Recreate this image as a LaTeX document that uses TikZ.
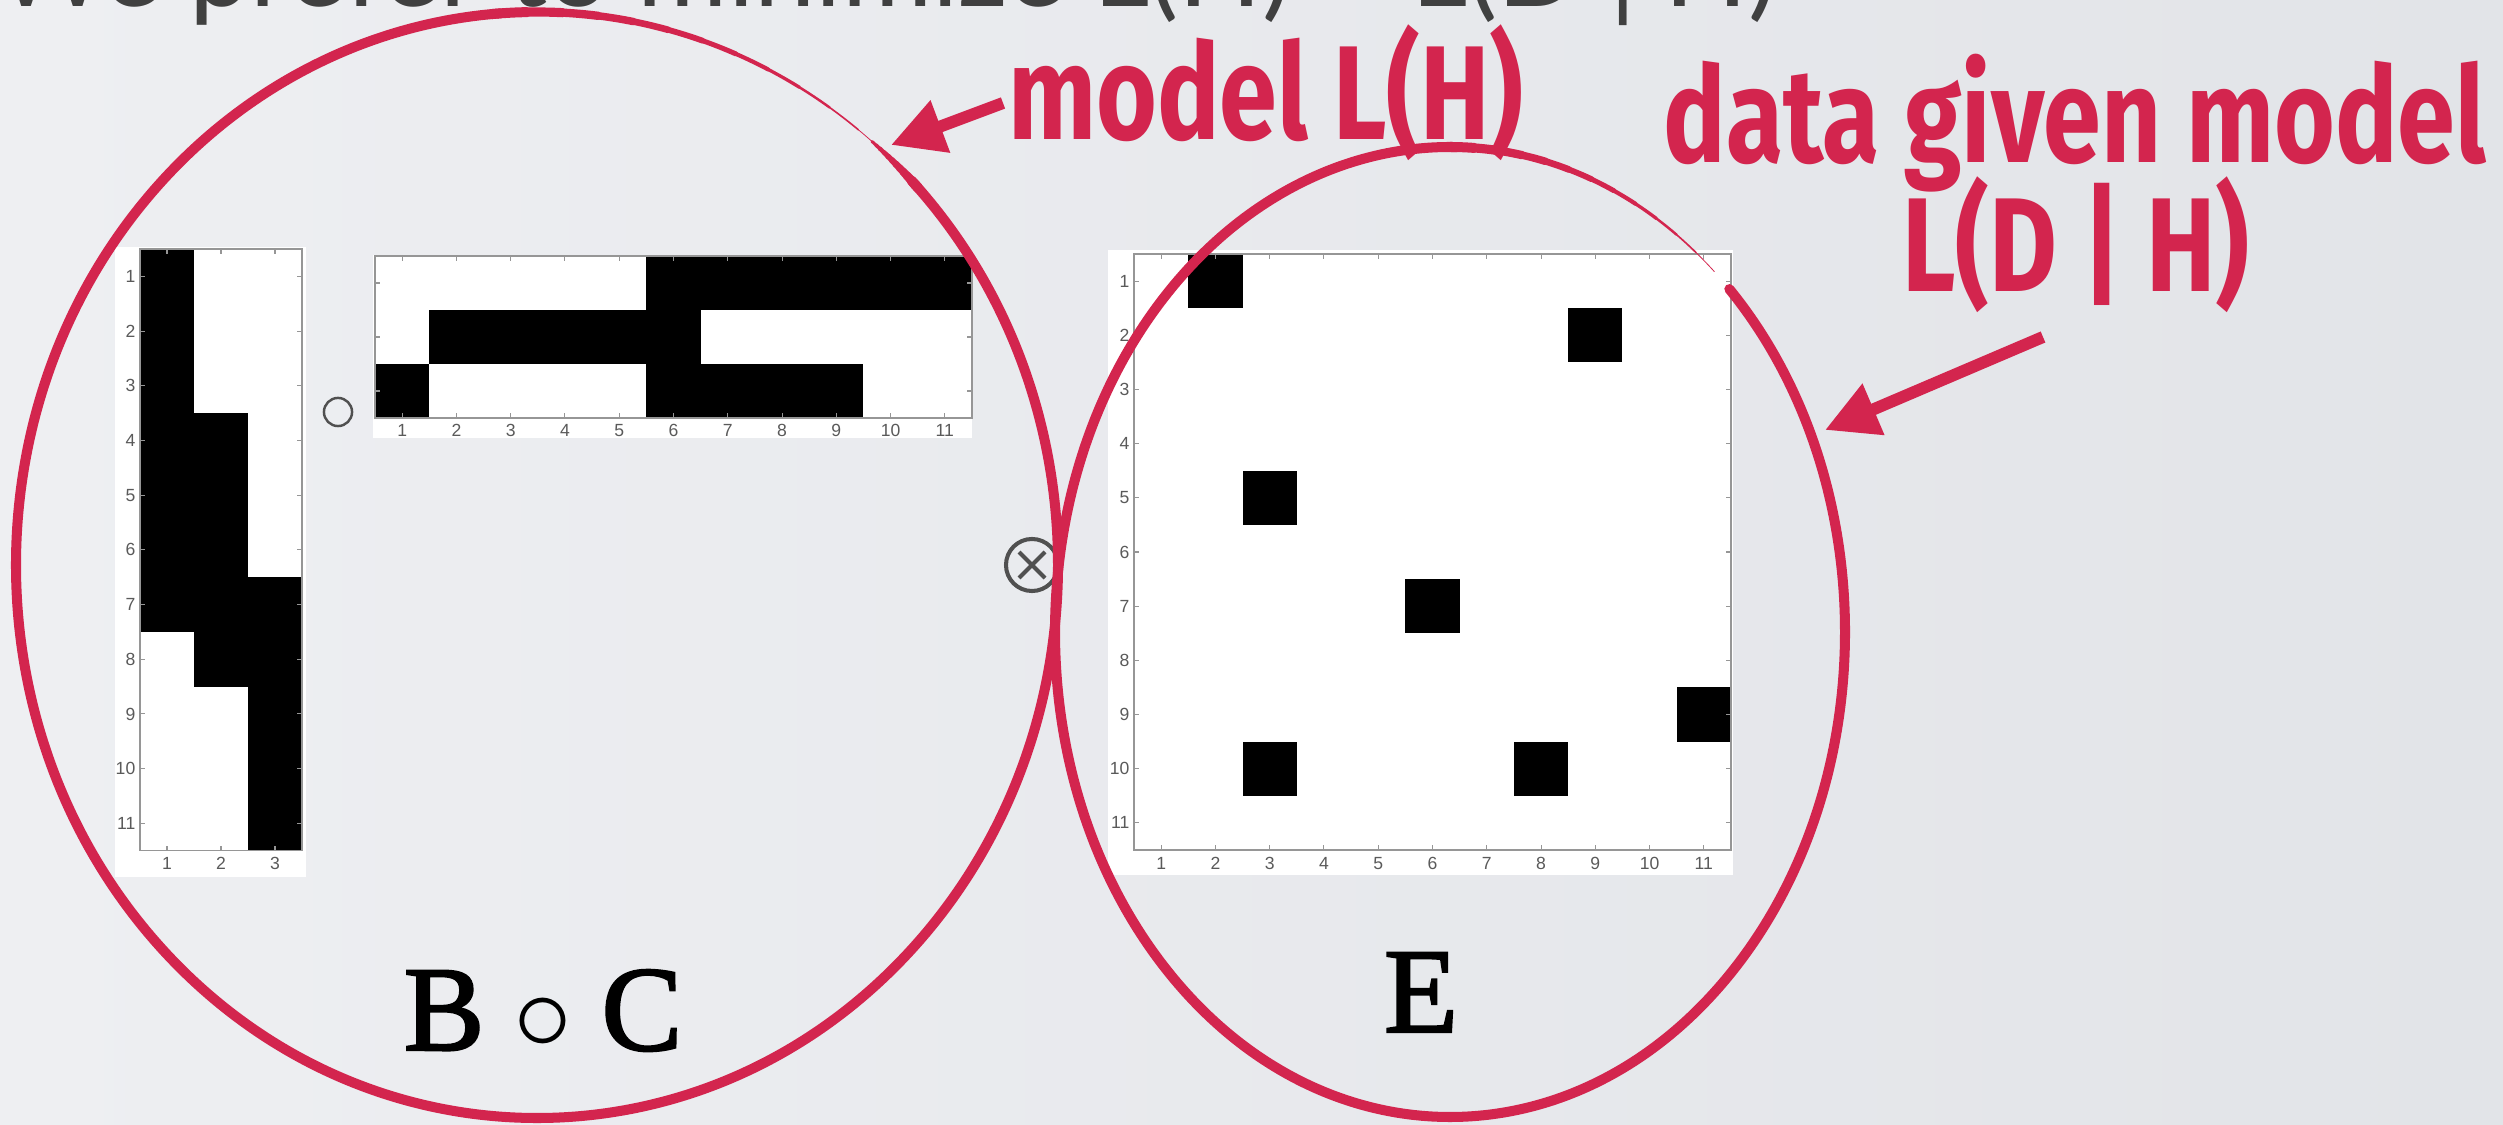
\documentclass[tikz,border=0pt]{standalone}
\usepackage{graphicx}
\usepackage{fontspec}
\setmainfont{Liberation Serif}
\newfontfamily\handfont[FakeStretch=0.78]{Fira Sans}
\newfontfamily\topfont{Lato}
\newfontfamily\lblfont{Liberation Sans}
\newfontfamily\capfont[FakeBold=2]{Liberation Serif}
\usetikzlibrary{arrows.meta}
\definecolor{myred}{RGB}{211,37,78}
\definecolor{bgl}{RGB}{238,239,242}
\definecolor{bgr}{RGB}{226,228,232}
\definecolor{txtgray}{RGB}{64,64,64}
\definecolor{axgray}{RGB}{150,150,150}
\definecolor{lblgray}{RGB}{90,90,90}
\definecolor{otgray}{RGB}{80,80,80}
\newcommand\TaperArc[8]{%
  \foreach \k in {0,...,11}{%
    \pgfmathsetmacro\taA{#5+(#6-#5)*\k/12}%
    \pgfmathsetmacro\taB{#5+(#6-#5)*(\k+1)/12}%
    \pgfmathsetmacro\taW{(#7+(#8-#7)*\k/11)*0.2845}%
    \draw[redline, line width=\taW pt] (#1,#2) ++(\taA:#3 and #4) arc[start angle=\taA, end angle=\taB, x radius=#3, y radius=#4];
  }}
\begin{document}
\begin{tikzpicture}[x=0.01cm, y=-0.01cm,
  redline/.style={draw=myred, line cap=round},
  mainline/.style={redline, line width=2.85pt},
  arrowline/.style={draw=myred, line width=3.4pt, -{Triangle[length=15pt, width=15pt]}},
  handlbl/.style={text=myred, inner sep=0pt, font=\handfont\bfseries\fontsize{38}{42}\selectfont},
  lbl/.style={inner sep=0pt, text=lblgray, font=\lblfont\fontsize{5}{6}\selectfont},
  axisbox/.style={draw=axgray, line width=0.35pt},
  tick/.style={draw=axgray, line width=0.3pt},
  symb/.style={circle, draw=otgray, inner sep=0pt},
  caplbl/.style={anchor=base, inner sep=0pt, font=\capfont\fontsize{34.4}{36}\selectfont}]
\useasboundingbox (0,0) rectangle (2503,1125);
\shade[left color=bgl, right color=bgr] (0,0) rectangle (2503,1125);

% cut-off title line
\node[anchor=base west, inner sep=0pt, text=txtgray, font=\topfont\fontsize{31.2}{32}\selectfont] (title) at (-5,7) {We prefer to minimize L(H) + L(D | H)};

% ---------- plot B (11 x 3) ----------
\fill[white] (115,247) rectangle (306,877);
\fill[black] (140,249) rectangle (194,631.9);
\fill[black] (194,413.1) rectangle (248,686.6);
\fill[black] (248,577.2) rectangle (302,850.7);
\draw[axisbox] (140,249) rectangle (302,850.7);
\foreach \c in {1,2,3}{
  \draw[tick] ({140+(\c-0.5)*54},249) -- ++(0,5);
  \draw[tick] ({140+(\c-0.5)*54},850.7) -- ++(0,-5);
  \node[lbl, anchor=north] (bc\c) at ({140+(\c-0.5)*54},857) {\c};}
\foreach \r in {1,...,11}{
  \draw[tick] (140,{249+(\r-0.5)*54.7}) -- ++(5,0);
  \draw[tick] (302,{249+(\r-0.5)*54.7}) -- ++(-5,0);
  \node[lbl, anchor=east] (br\r) at (136,{249+(\r-0.5)*54.7}) {\r};}

% ---------- plot C (3 x 11) ----------
\fill[white] (373,255) rectangle (972,438);
\fill[black] (646.4,256) rectangle (972,310);
\fill[black] (429.3,310) rectangle (700.6,364);
\fill[black] (375,364) rectangle (429.3,418);
\fill[black] (646.4,364) rectangle (863.4,418);
\draw[axisbox] (375,256) rectangle (972,418);
\foreach \c in {1,...,11}{
  \draw[tick] ({375+(\c-0.5)*54.27},256) -- ++(0,5);
  \draw[tick] ({375+(\c-0.5)*54.27},418) -- ++(0,-5);
  \node[lbl, anchor=north] (cc\c) at ({375+(\c-0.5)*54.27},424) {\c};}
\foreach \r in {1,2,3}{
  \draw[tick] (375,{256+(\r-0.5)*54}) -- ++(5,0);
  \draw[tick] (972,{256+(\r-0.5)*54}) -- ++(-5,0);}

% ---------- plot E (11 x 11) ----------
\fill[white] (1108,250) rectangle (1733,875);
\foreach \r/\c in {1/2,2/9,5/3,7/6,9/11,10/3,10/8}{
  \fill[black] ({1134+(\c-1)*54.27},{254+(\r-1)*54.18}) rectangle ++(54.27,54.18);}
\draw[axisbox] (1134,254) rectangle (1731,850);
\foreach \c in {1,...,11}{
  \draw[tick] ({1134+(\c-0.5)*54.27},254) -- ++(0,5);
  \draw[tick] ({1134+(\c-0.5)*54.27},850) -- ++(0,-5);
  \node[lbl, anchor=north] (ec\c) at ({1134+(\c-0.5)*54.27},857) {\c};}
\foreach \r in {1,...,11}{
  \draw[tick] (1134,{254+(\r-0.5)*54.18}) -- ++(5,0);
  \draw[tick] (1731,{254+(\r-0.5)*54.18}) -- ++(-5,0);
  \node[lbl, anchor=east] (er\r) at (1130,{254+(\r-0.5)*54.18}) {\r};}

% ---------- operators ----------
\node[symb, line width=0.7pt, minimum size=8pt] (compose) at (338,412) {};
\node[symb, line width=1.15pt, minimum size=14.8pt] (otimes) at (1032,565) {};
\draw[otgray, line width=1.15pt] ([shift={(-13,-13)}]otimes.center) -- ([shift={(13,13)}]otimes.center);
\draw[otgray, line width=1.15pt] ([shift={(-13,13)}]otimes.center) -- ([shift={(13,-13)}]otimes.center);

% ---------- hand-drawn ellipses ----------
\draw[mainline] (537,565) ++(-44:521 and 553) arc[start angle=-44, end angle=266, x radius=521, y radius=553];
\TaperArc{537}{565}{521}{553}{265}{312}{10}{0.8}
\TaperArc{537}{565}{521}{553}{-43}{-50}{10}{3}
\draw[mainline] (1450,632) ++(315:395 and 485) arc[start angle=315, end angle=631, x radius=395, y radius=485];
\TaperArc{1450}{632}{395}{485}{630}{672}{10}{0.8}

% ---------- annotations ----------
\node[handlbl, anchor=base] (model) at (1266,140) {model L(H)};
\node[handlbl, anchor=base] (data1) at (2075,163) {data given model};
\node[handlbl, anchor=base] (data2) at (2076,292) {L(D | H)};
\coordinate (mtail) at (1003,103);
\coordinate (mtip) at (891,145);
\draw[arrowline] (mtail) -- (mtip);
\coordinate (dtail) at (2043,337);
\coordinate (dtip) at (1825,430);
\draw[arrowline] (dtail) -- (dtip);

% ---------- bottom labels ----------
\node[caplbl] (bclbl) at (543,1050) {B\hspace{0.24em}\scalebox{1.35}{$\circ$}\hspace{0.24em}C};
\node[caplbl] (elbl) at (1421,1032) {E};
\end{tikzpicture}
\end{document}
